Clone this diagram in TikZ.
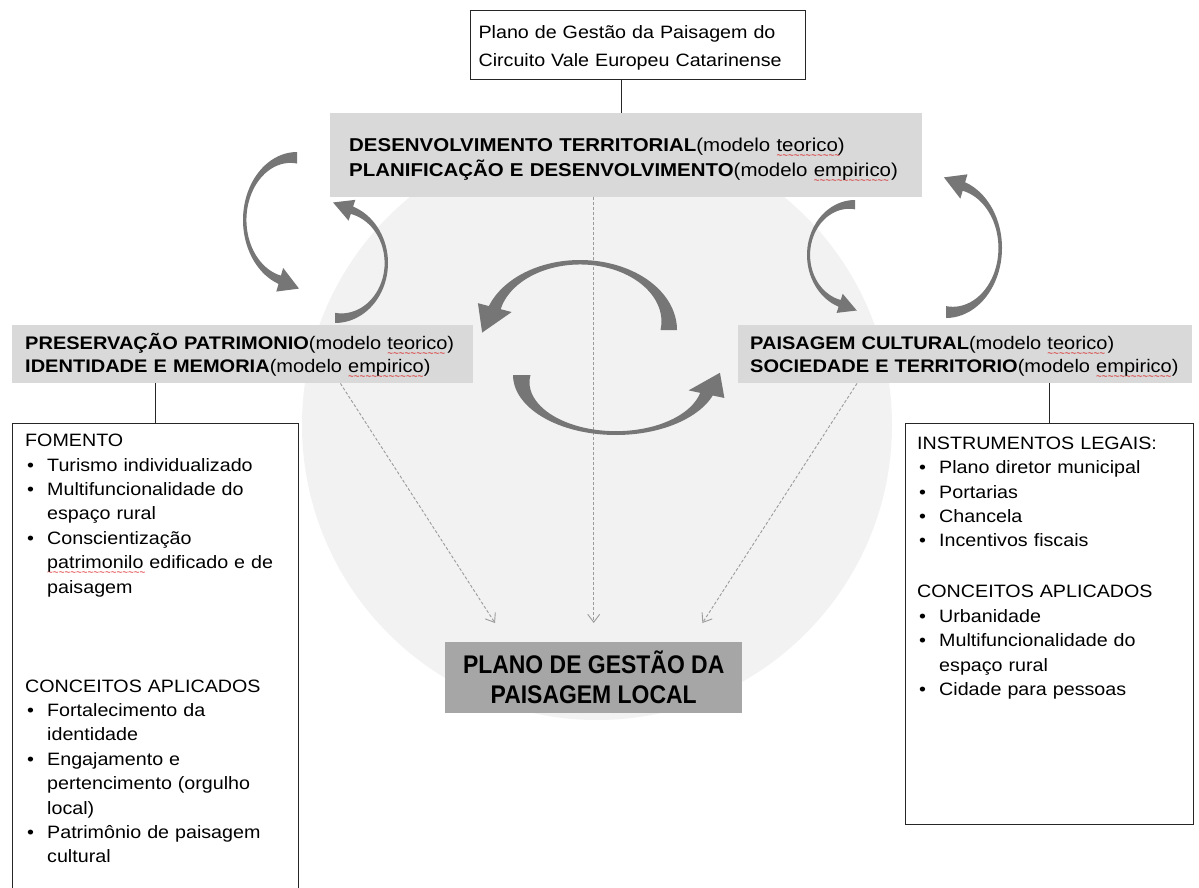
\documentclass[tikz,border=0pt]{standalone}
\usepackage{fontspec}
\setmainfont{Liberation Sans}[FakeStretch=1.1]
\newfontfamily\goalfont{Liberation Sans}[FakeStretch=0.9]
\usetikzlibrary{arrows.meta,positioning,calc}
\definecolor{boxgray}{RGB}{217,217,217}
\definecolor{goalgray}{RGB}{166,166,166}
\definecolor{circlegray}{RGB}{242,242,242}
\definecolor{arrowgray}{RGB}{118,118,118}
\definecolor{dashgray}{RGB}{155,155,155}
\setlength{\parindent}{0pt}
% red spell-check wave under a word
\ExplSyntaxOn
\cs_new:Npn \wavetildes #1 { \prg_replicate:nn {#1} { \char"7E } }
\ExplSyntaxOff
\newcommand{\redwave}[1]{\setbox0\hbox{#1}\setbox2\hbox{\fontsize{9}{9}\selectfont\char"7E}%
  \rlap{\raisebox{-7pt}{\textcolor{red!85!black}{\fontsize{9}{9}\selectfont\wavetildes{\numexpr\wd0/\wd2\relax}}}}\box0\relax}
% bullet line and its continuation
\newcommand{\bitem}[1]{\par\noindent\makebox[22pt][l]{\hspace{2pt}\textbullet}#1}
\newcommand{\bmore}[1]{\par\noindent\hspace*{22pt}#1}

\tikzset{
  declare function={bw(\t)=0.34*((\t-90)/160)^2-0.38*((\t-90)/160)+0.17;},
  topbox/.style={draw=black!85, line width=1.1pt, fill=white, align=left, text width=319pt,
    inner xsep=8pt, minimum height=69pt, font=\fontsize{17.9}{28}\selectfont},
  graybox/.style={fill=boxgray, align=left, font=\fontsize{18.6}{23.5}\selectfont},
  sidegray/.style={graybox, minimum height=58pt, font=\fontsize{18.2}{23}\selectfont},
  listframe/.style={draw=black!85, line width=1.1pt, fill=white},
  listtext/.style={align=left, text width=300pt, inner sep=0pt, font=\fontsize{17.9}{24.4}\selectfont},
  goalbox/.style={fill=goalgray, align=center, font=\goalfont\bfseries\fontsize{25.5}{30}\selectfont},
  dasharrow/.style={dashgray, dash pattern=on 3pt off 2pt, line width=0.9pt,
    -{Straight Barb[length=8pt,width=12pt]}},
  link/.style={black!85, line width=1.1pt},
  bendarrow/.pic={
    \fill[arrowgray] plot[domain=90:250, samples=40, smooth] ({cos(\x)},{sin(\x)})
      -- ({1.12*cos(250)},{1.12*sin(250)})
      -- (0.037,-1.009)
      -- ({0.75*cos(250)},{0.75*sin(250)})
      -- plot[domain=250:90, samples=40, smooth] ({(1-bw(\x))*cos(\x)},{(1-bw(\x))*sin(\x)})
      -- cycle;
  }
}

\begin{document}
\begin{tikzpicture}[x=1pt, y=1pt]
  \useasboundingbox (0,0) rectangle (1199,-888);
  % background disc
  \fill[circlegray] (597,-425) circle[radius=295];

  % top title
  \node[topbox, anchor=north west] (topbox) at (470,-10)
    {\rule{0pt}{18pt}Plano de Gestão da Paisagem do\\Circuito Vale Europeu Catarinense};

  % three gray themes
  \node[graybox, minimum width=592pt, minimum height=84pt, text width=554pt, inner xsep=19pt,
    anchor=north west] (tgray) at (330,-113)
    {\mbox{\rule{0pt}{25pt}\textbf{DESENVOLVIMENTO TERRITORIAL}(modelo \redwave{teorico})}\\
     \mbox{\textbf{PLANIFICAÇÃO E DESENVOLVIMENTO}(modelo \redwave{empirico})}};
  \node[sidegray, minimum width=461pt, text width=435pt, inner xsep=13pt,
    anchor=north west] (pgray) at (12,-325)
    {\mbox{\rule{0pt}{20pt}\textbf{PRESERVAÇÃO PATRIMONIO}(modelo \redwave{teorico})}\\
     \mbox{\textbf{IDENTIDADE E MEMORIA}(modelo \redwave{empirico})}};
  \node[sidegray, minimum width=454pt, text width=430pt, inner xsep=12pt,
    anchor=north west] (cgray) at (738,-325)
    {\mbox{\rule{0pt}{20pt}\textbf{PAISAGEM CULTURAL}(modelo \redwave{teorico})}\\
     \mbox{\textbf{SOCIEDADE E TERRITORIO}(modelo \redwave{empirico})}};

  % goal
  \node[goalbox, minimum width=297pt, minimum height=71pt, anchor=north west] (goal) at (445,-642)
    {PLANO DE GESTÃO DA\\PAISAGEM LOCAL};

  % list boxes
  \node[listframe, minimum width=286pt, minimum height=480pt, anchor=north west] (lbox) at (12,-423) {};
  \node[listtext, anchor=north west] (ltext) at ([xshift=13pt,yshift=-11pt]lbox.north west) {%
    FOMENTO
    \bitem{Turismo individualizado}
    \bitem{Multifuncionalidade do}
    \bmore{espaço rural}
    \bitem{Conscientização}
    \bmore{\redwave{patrimonilo} edificado e de}
    \bmore{paisagem}
    \par\vspace{74.6pt}
    CONCEITOS APLICADOS
    \bitem{Fortalecimento da}
    \bmore{identidade}
    \bitem{Engajamento e}
    \bmore{pertencimento (orgulho}
    \bmore{local)}
    \bitem{Patrimônio de paisagem}
    \bmore{cultural}};

  \node[listframe, minimum width=288pt, minimum height=401pt, anchor=north west] (rbox) at (905,-423) {};
  \node[listtext, anchor=north west] (rtext) at ([xshift=12pt,yshift=-13.5pt]rbox.north west) {%
    INSTRUMENTOS LEGAIS:
    \bitem{Plano diretor municipal}
    \bitem{Portarias}
    \bitem{Chancela}
    \bitem{Incentivos fiscais}
    \par\vspace{26.6pt}
    CONCEITOS APLICADOS
    \bitem{Urbanidade}
    \bitem{Multifuncionalidade do}
    \bmore{espaço rural}
    \bitem{Cidade para pessoas}};

  % connectors
  \draw[link] ([xshift=-5pt]tgray.north) -- ([xshift=-5pt]tgray.north |- topbox.south);
  \draw[link] (lbox.north) -- (lbox.north |- pgray.south);
  \draw[link] (rbox.north) -- (rbox.north |- cgray.south);

  % dashed arrows to the goal
  \draw[dasharrow] (goal.north |- tgray.south) -- ([yshift=19pt]goal.north);
  \draw[dasharrow] ([xshift=-133pt]pgray.south east) -- ([xshift=50pt,yshift=19pt]goal.north west);
  \draw[dasharrow] ([xshift=119pt]cgray.south west) -- ([xshift=-40pt,yshift=19pt]goal.north east);

  % curved cycle arrows
  \pic[shift={(297,-220)}, xscale=54, yscale=68] {bendarrow};
  \pic[shift={(335,-263)}, xscale=53, yscale=60, rotate=180] {bendarrow};
  \pic[shift={(855,-255)}, xscale=48, yscale=55] {bendarrow};
  \pic[shift={(946,-248)}, xscale=56, yscale=70, rotate=180] {bendarrow};
  \pic[shift={(580,-330)}, xscale=97, yscale=70, rotate=-90] {bendarrow};
  \pic[shift={(616,-375)}, xscale=103, yscale=60, rotate=90] {bendarrow};
\end{tikzpicture}
\end{document}
